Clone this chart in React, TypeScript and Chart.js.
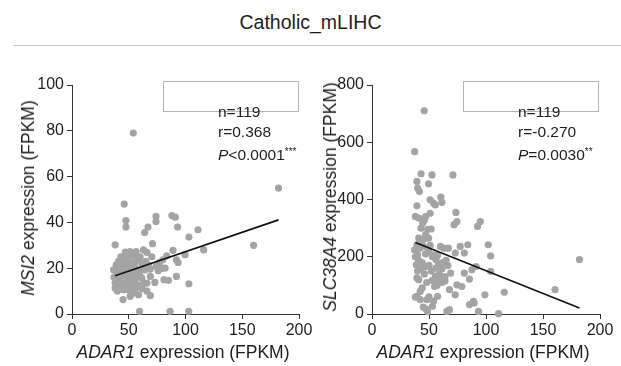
import React, { useEffect, useRef } from 'react';
import { Chart, registerables } from 'chart.js';

Chart.register(...registerables);

const FONT = '"Liberation Sans", Arial, Helvetica, sans-serif';
const TEXT = '#1e1e1e';
const DOT = '#a4a4a4';

// x-axis ticks (ADAR1 FPKM)
const xTicks = [0, 50, 100, 150, 200];
const msi2Ticks = [0, 20, 40, 60, 80, 100];
const slcTicks = [0, 200, 400, 600, 800];

// Left panel: ADAR1 vs MSI2
const msi2X = [
  54, 182, 46, 47.5, 47.5, 74, 74, 88, 91, 93, 67, 64, 111, 103, 116, 160, 38, 71, 89, 99.6,
  92, 93.5, 83.5, 82, 80, 77, 74, 66, 60, 92, 85, 81, 103, 73, 63, 66, 69, 45, 59.5, 86.4,
  102.8, 36.6, 39, 40, 38, 42, 40, 44, 45.4, 48.3, 51, 52.7, 54.8, 50.7, 56.5, 57.7, 61.5, 59.4, 63, 64.4,
  67.3, 46.8, 49.8, 52.7, 54.8, 42.5, 44.8, 47.7, 50.7, 53.6, 56.5, 46.8, 49.8, 52.7, 51.2, 55.6, 57.1, 45.4, 58.6, 51.2,
  38, 41.9, 43, 46, 39, 41, 43, 52.7, 55.6, 68.9, 70.3, 63, 61.5, 66, 60, 69, 77, 76, 79, 37,
  39, 41, 43, 44, 46, 48, 49, 50, 52, 53, 54, 55, 56, 58, 60, 62, 65, 47, 51,
];
const msi2Y = [
  79, 55, 48, 40.8, 38, 42.6, 40.4, 43, 42.3, 38, 38, 35.6, 36.8, 33.6, 28, 30, 30.2, 30.7, 27.8, 25.9,
  23.7, 22.5, 25.4, 20, 23.7, 22.5, 20.8, 26.9, 25, 16.4, 14.7, 15, 13.2, 13.8, 13.5, 10, 8, 6.3, 1.2, 1.2,
  1.2, 19.3, 18.6, 15, 13.5, 12, 10, 23.7, 22.2, 24.4, 27.3, 26.6, 25.9, 25.1, 27.3, 24.4, 22.2, 19.3, 20.8, 19.3,
  21.5, 20, 19.3, 18.2, 17.2, 17.2, 15.7, 15, 16.4, 14.7, 15.7, 12.8, 12, 12.4, 9.9, 10.6, 12.8, 10.6, 8.4, 7.7,
  11.3, 13.5, 19.3, 17.9, 21.5, 23, 20.8, 22.2, 23, 19.6, 25, 28, 15.7, 13.5, 16.4, 16.4, 22.5, 18.9, 19.9, 16,
  14, 20, 25, 13, 15, 11, 22, 14, 20, 9, 13, 21, 18, 12, 19, 11, 23, 27, 17,
];
const msi2FitX = [38, 182];
const msi2FitY = [16.7, 41.1];

// Right panel: ADAR1 vs SLC38A4
const slcX = [
  45.8, 37.4, 43, 52.6, 71, 39.4, 49.6, 40, 41.6, 39.4, 51, 54, 55.5, 60.4, 61.3, 51, 73.6, 74.5, 72, 95,
  92.6, 38, 41, 44.5, 46, 48.9, 51.8, 47, 41, 49.6, 37.4, 39.4, 42.3, 45, 49.6, 60, 63, 67, 54, 56,
  58.4, 40, 40.9, 38.8, 42.3, 46.7, 77.4, 84, 102, 104, 73, 81, 65, 66.6, 61.3, 91.4, 87.6, 104, 81, 69,
  55.5, 52.6, 58.4, 39.4, 41, 64, 85.5, 61.3, 54.9, 44, 42.3, 74.5, 78.8, 68, 116, 99, 160.6, 182, 39.4, 38,
  42.3, 48.2, 57.5, 73, 89, 85.5, 89.6, 53, 45, 47.5, 48.7, 65.7, 68, 93.4, 111, 38, 40, 42, 44, 45,
  46, 47, 48, 50, 51, 52, 53, 55, 56, 57, 59, 62, 64, 43, 47, 50, 54, 60, 57.5,
];
const slcY = [
  710, 567, 490, 486, 486, 463, 455, 440, 428, 378, 399, 387, 381, 408, 390, 352, 355, 323, 312, 323,
  306, 341, 335, 317, 329, 296, 297, 277, 265, 265, 224, 242, 248, 236, 219, 236, 230, 230, 207, 190,
  178, 207, 187, 172, 157, 166, 236, 242, 242, 203, 213, 213, 187, 169, 157, 166, 155, 149, 143, 143,
  131, 117, 126, 126, 120, 131, 122, 110, 96, 91, 79, 102, 96, 85, 76, 67, 85, 190, 62, 59,
  50, 50, 62, 67, 44, 33, 38, 27, 24, 17, 9, 9, 15, 9, 1, 200, 150, 230, 180, 260,
  140, 210, 110, 170, 240, 150, 200, 120, 160, 100, 140, 180, 115, 300, 340, 60, 45, 170, 205,
];
const slcFitX = [38, 182];
const slcFitY = [250, 21];

type PanelProps = {
  left: number;
  width: number;
  axisWidth: number;
  padRight: number;
  xs: number[];
  ys: number[];
  fitX: number[];
  fitY: number[];
  yTicks: number[];
};

function Panel({ left, width, axisWidth, padRight, xs, ys, fitX, fitY, yTicks }: PanelProps) {
  const ref = useRef<HTMLCanvasElement | null>(null);
  useEffect(() => {
    if (!ref.current) return;
    const pts = xs.map((x, i) => ({ x, y: ys[i] }));
    const fit = fitX.map((x, i) => ({ x, y: fitY[i] }));
    const tickFont = { family: FONT, size: 16 };
    const chart = new Chart(ref.current, {
      type: 'scatter',
      data: {
        datasets: [
          {
            type: 'line',
            data: fit,
            borderColor: '#111',
            borderWidth: 1.6,
            pointRadius: 0,
            fill: false,
            clip: false,
          } as any,
          {
            data: pts,
            backgroundColor: DOT,
            borderWidth: 0,
            pointRadius: 3.6,
            clip: false,
          } as any,
        ],
      },
      options: {
        responsive: false,
        animation: false,
        events: [],
        layout: { padding: { left: 0, right: padRight, top: 85, bottom: 22 } },
        plugins: { legend: { display: false }, tooltip: { enabled: false } },
        scales: {
          x: {
            type: 'linear',
            min: xTicks[0],
            max: xTicks[xTicks.length - 1],
            afterBuildTicks: (s: any) => {
              s.ticks = xTicks.map((v) => ({ value: v }));
            },
            ticks: { color: TEXT, font: tickFont, padding: 2, maxRotation: 0 },
            grid: { drawOnChartArea: false, drawTicks: true, tickLength: 5, color: '#333' },
            border: { display: true, color: '#333', width: 1 },
            afterFit: (s: any) => {
              s.height = 30;
            },
          },
          y: {
            type: 'linear',
            min: yTicks[0],
            max: yTicks[yTicks.length - 1],
            afterBuildTicks: (s: any) => {
              s.ticks = yTicks.map((v) => ({ value: v }));
            },
            ticks: { color: TEXT, font: tickFont, padding: 3 },
            grid: { drawOnChartArea: false, drawTicks: true, tickLength: 5, color: '#333' },
            border: { display: true, color: '#333', width: 1 },
            afterFit: (s: any) => {
              s.width = axisWidth;
            },
          },
        },
      } as any,
    });
    return () => chart.destroy();
  }, []);
  return (
    <canvas
      ref={ref}
      width={width}
      height={366}
      style={{ position: 'absolute', left, top: 0, width, height: 366 }}
    />
  );
}

const abs = (s: React.CSSProperties): React.CSSProperties => ({ position: 'absolute', ...s });

function VTitle({ cx, cy, gene }: { cx: number; cy: number; gene: string }) {
  return (
    <div
      style={abs({
        left: cx,
        top: cy,
        transform: 'translate(-50%, -50%) rotate(-90deg)',
        whiteSpace: 'nowrap',
        fontSize: 17.5,
        color: TEXT,
        lineHeight: '20px',
      })}
    >
      <i>{gene}</i> expression (FPKM)
    </div>
  );
}

function HTitle({ cx, cy }: { cx: number; cy: number }) {
  return (
    <div
      style={abs({
        left: cx,
        top: cy,
        transform: 'translate(-50%, -50%)',
        whiteSpace: 'nowrap',
        fontSize: 17.5,
        color: TEXT,
        lineHeight: '20px',
      })}
    >
      <i>ADAR1</i> expression (FPKM)
    </div>
  );
}

function Stats({ boxLeft, textLeft, n, r, p, stars }: { boxLeft: number; textLeft: number; n: string; r: string; p: string; stars: string }) {
  return (
    <>
      <div style={abs({ left: boxLeft, top: 81, width: 134, height: 29, border: '1px solid #b4b4b4', background: 'transparent' })} />
      <div style={abs({ left: textLeft, top: 102, fontSize: 15.5, lineHeight: '20px', color: TEXT, whiteSpace: 'nowrap' })}>
        <div>{n}</div>
        <div>{r}</div>
        <div>
          <i>P</i>
          {p}
          <span style={{ fontSize: 10, verticalAlign: 5 }}>{stars}</span>
        </div>
      </div>
    </>
  );
}

export default function App() {
  return (
    <div
      style={{
        position: 'absolute',
        left: 0,
        top: 0,
        width: 621,
        height: 366,
        background: '#fff',
        overflow: 'hidden',
        fontFamily: FONT,
      }}
    >
      <div style={abs({ left: 0, top: 9, width: 621, textAlign: 'center', fontSize: 19.5, lineHeight: '26px', color: TEXT })}>
        Catholic_mLIHC
      </div>
      <div style={abs({ left: 13, top: 45, width: 608, height: 1, background: '#c4c4c4' })} />

      <Panel left={0} width={315} axisWidth={72} padRight={16} xs={msi2X} ys={msi2Y} fitX={msi2FitX} fitY={msi2FitY} yTicks={msi2Ticks} />
      <Panel left={315} width={306} axisWidth={57} padRight={21} xs={slcX} ys={slcY} fitX={slcFitX} fitY={slcFitY} yTicks={slcTicks} />

      <Stats boxLeft={163} textLeft={218} n="n=119" r="r=0.368" p="<0.0001" stars="***" />
      <Stats boxLeft={463} textLeft={518} n="n=119" r="r=-0.270" p="=0.0030" stars="**" />

      <VTitle cx={28} cy={198} gene="MSI2" />
      <VTitle cx={330} cy={197} gene="SLC38A4" />
      <HTitle cx={183} cy={352} />
      <HTitle cx={483} cy={352} />
    </div>
  );
}
